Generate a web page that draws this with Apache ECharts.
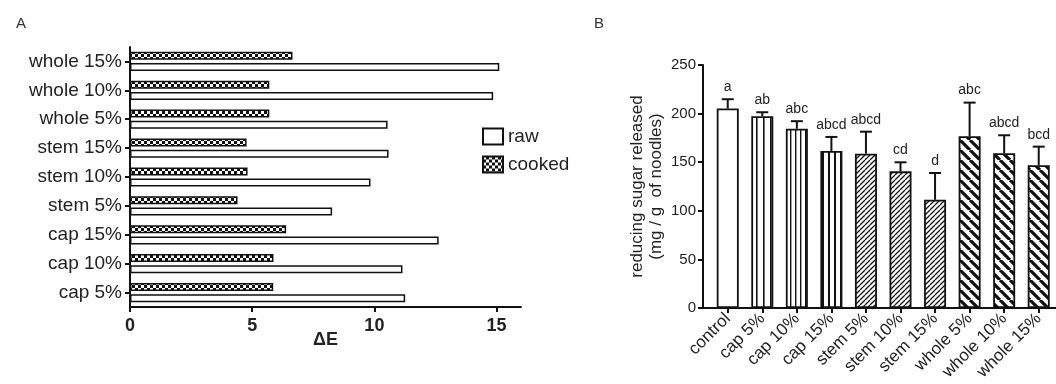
<!DOCTYPE html>
<html>
<head>
<meta charset="utf-8">
<script src="https://cdn.jsdelivr.net/npm/echarts@6/dist/echarts.min.js"></script>
<style>
html,body{margin:0;padding:0;background:#fff;}
#chart{width:1056px;height:384px;}
</style>
</head>
<body>
<div id="chart"></div>
<script>
// ---- Panel A data ----
const leftCategories = ['cap 5%','cap 10%','cap 15%','stem 5%','stem 10%','stem 15%','whole 5%','whole 10%','whole 15%'];
const rawValues    = [11.26, 11.15, 12.63, 8.27, 9.84, 10.58, 10.54, 14.86, 15.11];
const cookedValues = [5.86, 5.87, 6.39, 4.40, 4.81, 4.77, 5.70, 5.70, 6.65];
const leftTickLabels = [0, 5, 10, 15];
const leftSeriesNames = ['raw', 'cooked'];

// ---- Panel B data ----
const rightCategories = ['control','cap 5%','cap 10%','cap 15%','stem 5%','stem 10%','stem 15%','whole 5%','whole 10%','whole 15%'];
const sugarMeans = [205.2, 197.3, 184.5, 161.5, 158.8, 140.6, 111.3, 176.7, 159.2, 146.8];
const sugarSD    = [9.6, 4.1, 7.7, 14.5, 22.6, 9.3, 27.6, 34.6, 18.5, 19.2];
const sigLetters = ['a','ab','abc','abcd','abcd','cd','d','abc','abcd','bcd'];
const rightTickLabels = [0, 50, 100, 150, 200, 250];

// ---- patterns ----
function makePattern(w, h, draw) {
  const c = document.createElement('canvas');
  c.width = w; c.height = h;
  const ctx = c.getContext('2d');
  ctx.fillStyle = '#fff';
  ctx.fillRect(0, 0, w, h);
  draw(ctx, w, h);
  return { image: c, repeat: 'repeat' };
}
const checker = makePattern(6, 6, (ctx) => {
  ctx.fillStyle = '#111'; ctx.fillRect(0, 0, 6, 6);
  ctx.fillStyle = '#fff'; ctx.fillRect(0, 0, 3, 3); ctx.fillRect(3, 3, 3, 3);
});
function vlines(period, lw) {
  return makePattern(period, 4, (ctx) => { ctx.fillStyle = '#111'; ctx.fillRect(0, 0, lw, 4); });
}
function diag(s, lw, forward) {
  return makePattern(s, s, (ctx) => {
    ctx.strokeStyle = '#111'; ctx.lineWidth = lw;
    ctx.beginPath();
    for (const k of [-s, 0, s]) {
      if (forward) { ctx.moveTo(k, s); ctx.lineTo(k + s, 0); }
      else { ctx.moveTo(k, 0); ctx.lineTo(k + s, s); }
    }
    ctx.stroke();
  });
}
const rightFill = {
  'control': '#fff',
  'cap 5%': vlines(7, 1.6),
  'cap 10%': vlines(5, 1.4),
  'cap 15%': vlines(6, 2),
  'stem 5%': diag(5, 1.3, true),
  'stem 10%': diag(5, 1.3, true),
  'stem 15%': diag(5, 1.3, true),
  'whole 5%': diag(10, 3.2, false),
  'whole 10%': diag(10, 3.2, false),
  'whole 15%': diag(10, 3.2, false)
};

const txt = '#222';
const font = 'Liberation Sans, Arial, sans-serif';

const chart = echarts.init(document.getElementById('chart'), null, { renderer: 'canvas' });

chart.setOption({
  animation: false,
  textStyle: { fontFamily: font },
  title: [
    { text: 'A', left: 11, top: 11, textStyle: { fontSize: 15, fontWeight: 'normal', color: '#333', fontFamily: font } },
    { text: 'B', left: 589, top: 11, textStyle: { fontSize: 15, fontWeight: 'normal', color: '#333', fontFamily: font } }
  ],
  legend: {
    data: leftSeriesNames,
    orient: 'vertical',
    left: 477, top: 122,
    icon: 'rect',
    itemWidth: 20, itemHeight: 16, itemGap: 9,
    textStyle: { fontSize: 19, color: txt, fontFamily: font }
  },
  grid: [
    { left: 130, top: 47, width: 391, height: 260 },
    { left: 703, top: 65, width: 357, height: 243 }
  ],
  xAxis: [
    {
      gridIndex: 0, type: 'value', min: 0, max: 16,
      axisLine: { show: true, onZero: false, lineStyle: { color: '#111', width: 2 } },
      axisTick: { show: true, length: 5, lineStyle: { color: '#111', width: 2 }, customValues: leftTickLabels },
      axisLabel: { customValues: leftTickLabels, fontSize: 18, fontWeight: 'bold', color: txt, margin: 10, fontFamily: font },
      splitLine: { show: false },
      name: 'ΔE', nameLocation: 'middle', nameGap: 24, nameMoveOverlap: false,
      nameTextStyle: { fontSize: 18, fontWeight: 'bold', color: txt, fontFamily: font, verticalAlign: 'top' }
    },
    {
      gridIndex: 1, type: 'value', min: -0.716, max: 9.5,
      axisLine: { show: true, onZero: false, lineStyle: { color: '#111', width: 2 } },
      axisTick: { show: true, length: 5, lineStyle: { color: '#111', width: 2 }, customValues: rightCategories.map((c, i) => i) },
      axisLabel: {
        customValues: rightCategories.map((c, i) => i),
        formatter: (v) => rightCategories[Math.round(v)] || '',
        rotate: 45, fontSize: 17, color: txt, margin: 8, fontFamily: font
      },
      splitLine: { show: false }
    }
  ],
  yAxis: [
    {
      gridIndex: 0, type: 'category', data: leftCategories,
      axisLine: { show: true, onZero: false, lineStyle: { color: '#111', width: 2 } },
      axisTick: { show: true, alignWithLabel: true, length: 5, lineStyle: { color: '#111', width: 2 } },
      axisLabel: { fontSize: 19, color: txt, margin: 8, fontFamily: font }
    },
    {
      gridIndex: 1, type: 'value', min: 0, max: 250, interval: 50,
      axisLine: { show: true, onZero: false, lineStyle: { color: '#111', width: 2 } },
      axisTick: { show: true, length: 5, lineStyle: { color: '#111', width: 2 } },
      axisLabel: { fontSize: 15, color: txt, margin: 7, fontFamily: font },
      splitLine: { show: false },
      name: 'reducing sugar released\n(mg / g  of noodles)',
      nameLocation: 'middle', nameRotate: 90, nameGap: 37,
      nameTextStyle: { fontSize: 17, color: txt, lineHeight: 19, fontFamily: font }
    }
  ],
  series: [
    {
      name: 'cooked', type: 'bar', xAxisIndex: 0, yAxisIndex: 0,
      data: cookedValues, barWidth: 8, barGap: '40%',
      itemStyle: { color: checker, borderColor: '#111', borderWidth: 1.5 }
    },
    {
      name: 'raw', type: 'bar', xAxisIndex: 0, yAxisIndex: 0,
      data: rawValues, barWidth: 8, barGap: '40%',
      itemStyle: { color: '#fff', borderColor: '#111', borderWidth: 1.5 }
    },
    {
      name: 'sugar', type: 'bar', xAxisIndex: 1, yAxisIndex: 1,
      barWidth: 22,
      data: rightCategories.map((c, i) => ({ value: [i, sugarMeans[i]], itemStyle: { color: rightFill[c] } })),
      itemStyle: { borderColor: '#111', borderWidth: 1.8 }
    },
    {
      name: 'sd', type: 'custom', xAxisIndex: 1, yAxisIndex: 1, z: 5,
      data: rightCategories.map((c, i) => [i, sugarMeans[i], sugarMeans[i] + sugarSD[i]]),
      renderItem: (params, api) => {
        const x = api.value(0);
        const base = api.coord([x, api.value(1)]);
        const top = api.coord([x, api.value(2)]);
        const st = { stroke: '#111', lineWidth: 2 };
        return {
          type: 'group',
          children: [
            { type: 'line', shape: { x1: base[0], y1: base[1], x2: top[0], y2: top[1] }, style: st },
            { type: 'line', shape: { x1: top[0] - 6, y1: top[1], x2: top[0] + 6, y2: top[1] }, style: st },
            { type: 'text', style: { text: sigLetters[params.dataIndex], x: top[0], y: top[1] - 5,
              align: 'center', verticalAlign: 'bottom', fontSize: 14, fill: txt, fontFamily: font } }
          ]
        };
      }
    }
  ]
});
</script>
</body>
</html>
